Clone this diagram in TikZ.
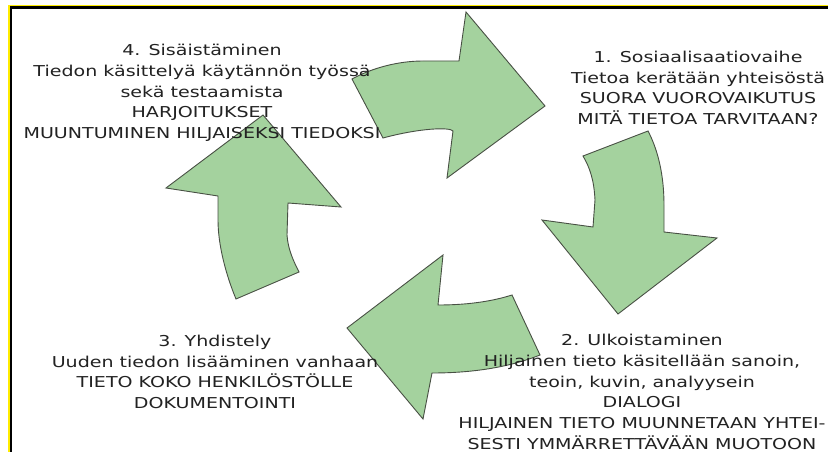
\documentclass[tikz,border=0pt]{standalone}
\usepackage{fontspec}
\setmainfont{DejaVu Sans}
\definecolor{arrowfill}{RGB}{164,210,158}
\definecolor{arrowline}{RGB}{72,80,68}
\definecolor{frameyellow}{RGB}{255,236,0}
\definecolor{textgray}{RGB}{34,34,34}
\tikzset{
  cyclearrow/.style={fill=arrowfill, draw=arrowline, line width=0.9pt, line join=miter},
  phasetext/.style={align=center, text=textgray, inner sep=0pt,
    font=\fontsize{15}{20.8}\selectfont, xscale=1.27, transform shape}
}
\begin{document}
\begin{tikzpicture}[x=1pt, y=-1pt]
\useasboundingbox (0,0) rectangle (828,452);
\fill[white] (0,0) rectangle (828,452);

% frame along the top and left edges
\draw[frameyellow, line width=1.5pt] (9,460) -- (9,5.6) -- (840,5.6);
\draw[black, line width=2.7pt] (11,460) -- (11,7.8) -- (840,7.8);

% arrow 1: towards the right, top
\path[cyclearrow] (352,79) .. controls (372,68) and (398,61) .. (423,61)
  -- (459,61) -- (466,12) -- (545,106) -- (447,178) -- (453,131)
  .. controls (450,127) and (420,128) .. (383,138) -- cycle;

% arrow 2: downwards, right
\path[cyclearrow] (583,156) -- (648,131)
  .. controls (658,150) and (664,175) .. (664,205)
  -- (664,232) -- (717,238) -- (618,314) -- (542,220) -- (593,227)
  -- (595,200) .. controls (594,180) and (590,168) .. (583,156) -- cycle;

% arrow 3: towards the left, bottom
\path[cyclearrow] (443,255) -- (438,305)
  .. controls (465,305) and (490,302) .. (512,295)
  -- (540,355) .. controls (515,365) and (480,373) .. (432,373)
  -- (423,419) -- (347,328) -- cycle;

% arrow 4: upwards, left
\path[cyclearrow] (263,115) -- (341,207) -- (288,203)
  -- (287,235) .. controls (288,250) and (294,262) .. (299,272)
  -- (236,299) .. controls (226,275) and (218,245) .. (218,220)
  -- (218,196) -- (166,188) -- cycle;

% phase texts
\node[phasetext] (internal) at (202,93) {4. Sisäistäminen\\
  Tiedon käsittelyä käytännön työssä\\
  sekä testaamista\\
  HARJOITUKSET\\
  MUUNTUMINEN HILJAISEKSI TIEDOKSI};

\node[phasetext] (social) at (698,88) {1. Sosiaalisaatiovaihe\\
  Tietoa kerätään yhteisöstä\\
  SUORA VUOROVAIKUTUS\\
  MITÄ TIETOA TARVITAAN?};

\node[phasetext] (combine) at (215,372) {3. Yhdistely\\
  Uuden tiedon lisääminen vanhaan\\
  TIETO KOKO HENKILÖSTÖLLE\\
  DOKUMENTOINTI};

\node[phasetext] (external) at (642,392) {2. Ulkoistaminen\\
  Hiljainen tieto käsitellään sanoin,\\
  teoin, kuvin, analyysein\\
  DIALOGI\\
  HILJAINEN TIETO MUUNNETAAN YHTEI-\\
  SESTI YMMÄRRETTÄVÄÄN MUOTOON};
\end{tikzpicture}
\end{document}
